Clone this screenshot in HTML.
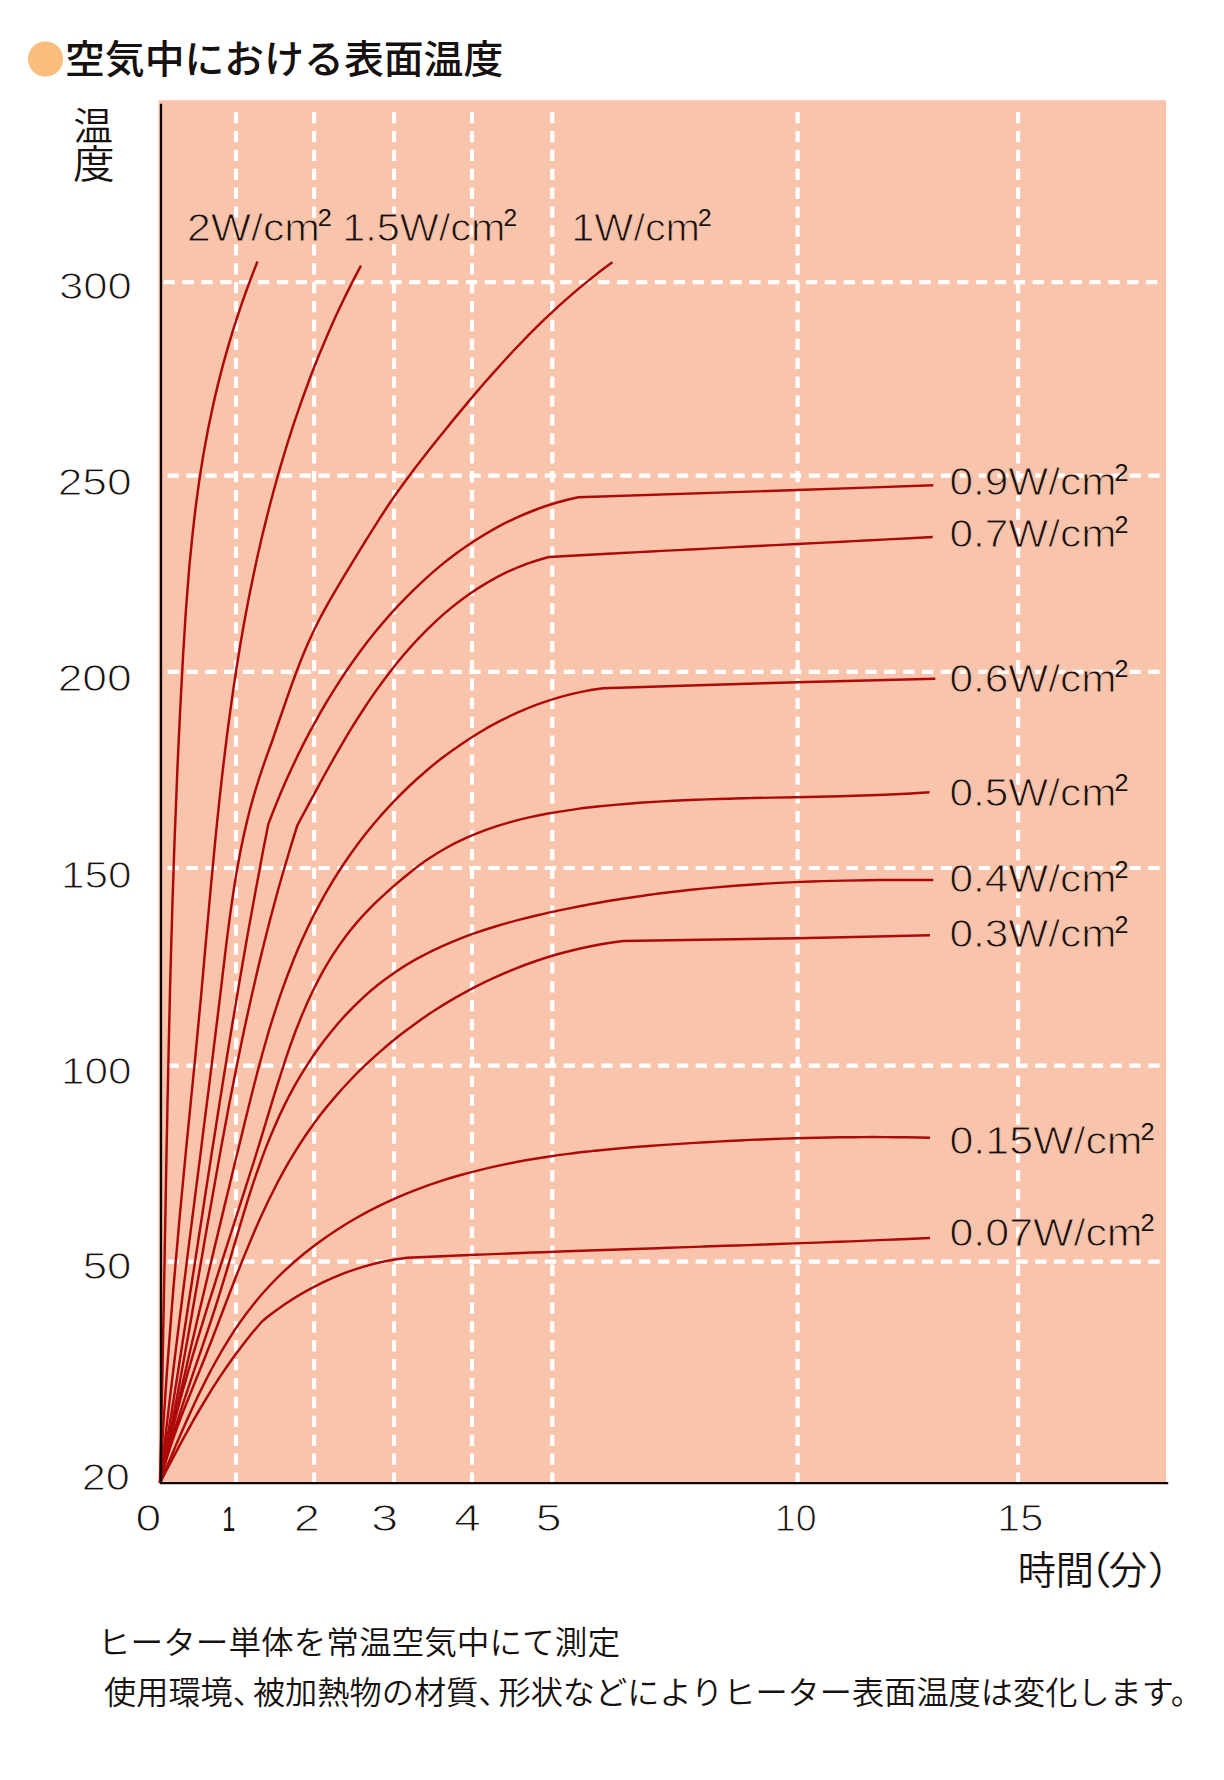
<!DOCTYPE html>
<html lang="ja"><head><meta charset="utf-8"><title>空気中における表面温度</title>
<style>html,body{margin:0;padding:0;background:#fff}svg{display:block}text{fill:#16110f}.jp{font-family:"Liberation Sans","Noto Sans CJK JP",sans-serif}.n{font-family:"Liberation Sans",sans-serif}.sp{stroke:none}.ew{stroke:#fff;stroke-width:1.0}.ec{stroke:#F8C4AC;stroke-width:1.0}</style></head><body>
<svg width="1224" height="1780" viewBox="0 0 1224 1780">
<rect x="0" y="0" width="1224" height="1780" fill="#fff"/>
<rect x="158.6" y="100.2" width="1007.5" height="1383" fill="#F8C4AC"/>
<g stroke="#fff" stroke-width="4.2" stroke-dasharray="11.300 7.595" fill="none">
<path d="M236.0 112V1482.5"/>
<path d="M314.1 112V1482.5"/>
<path d="M394.0 112V1482.5"/>
<path d="M472.0 112V1482.5"/>
<path d="M552.3 112V1482.5"/>
<path d="M797.6 112V1482.5"/>
<path d="M1018.1 112V1482.5"/>
<path d="M163.5 282.1H1158.2"/>
</g>
<g stroke="#fff" stroke-width="4.2" stroke-dasharray="11.300 7.560" fill="none">
<path d="M167.6 475.7H1160.2"/>
<path d="M167.6 671.8H1160.2"/>
<path d="M167.6 868.0H1160.2"/>
<path d="M167.6 1065.7H1160.2"/>
<path d="M167.6 1261.6H1160.2"/>
</g>
<g stroke="#AE0909" stroke-width="2.45" fill="none" stroke-linecap="butt" stroke-linejoin="round">
<path d="M160.0 1483.0C160.2 1475.5 160.4 1468.1 160.5 1460.6C160.7 1453.2 160.9 1445.7 161.1 1438.2C161.2 1430.8 161.4 1423.3 161.5 1415.9C161.7 1408.4 161.9 1400.9 162.0 1393.5C162.2 1386.0 162.3 1378.6 162.5 1371.1C162.6 1363.6 162.8 1356.2 162.9 1348.7C163.1 1341.3 163.2 1333.8 163.3 1326.4C163.5 1318.9 163.6 1311.4 163.8 1304.0C163.9 1296.5 164.0 1289.1 164.2 1281.6C164.3 1274.1 164.4 1266.7 164.6 1259.2C164.7 1251.8 164.8 1244.3 165.0 1236.9C165.1 1229.4 165.3 1221.9 165.4 1214.5C165.5 1207.0 165.7 1199.6 165.8 1192.1C165.9 1184.7 166.1 1177.2 166.2 1169.7C166.4 1162.3 166.5 1154.8 166.6 1147.4C166.8 1139.9 166.9 1132.5 167.1 1125.0C167.2 1117.5 167.4 1110.1 167.5 1102.6C167.7 1095.2 167.8 1087.7 168.0 1080.3C168.1 1072.8 168.3 1065.4 168.5 1057.9C168.6 1050.4 168.8 1043.0 169.0 1035.5C169.1 1028.1 169.3 1020.6 169.5 1013.2C169.7 1005.7 169.8 998.3 170.0 990.8C170.2 983.3 170.4 975.9 170.6 968.4C170.8 961.0 171.0 953.5 171.2 946.1C171.4 938.6 171.6 931.2 171.9 923.7C172.1 916.2 172.3 908.8 172.5 901.3C172.8 893.9 173.0 886.4 173.3 879.0C173.5 871.5 173.8 864.1 174.0 856.6C174.3 849.1 174.5 841.7 174.8 834.2C175.1 826.8 175.4 819.3 175.7 811.9C176.0 804.4 176.3 797.0 176.6 789.5C176.9 782.1 177.2 774.6 177.5 767.1C177.8 759.7 178.2 752.2 178.5 744.8C178.9 737.3 179.2 729.9 179.6 722.4C179.9 715.0 180.3 707.5 180.7 700.1C181.1 692.6 181.5 685.1 181.9 677.7C182.3 670.2 182.7 662.8 183.1 655.3C183.6 647.9 184.0 640.4 184.5 633.0C184.9 625.5 185.4 618.1 185.9 610.6C186.5 603.2 187.0 595.7 187.6 588.3C188.2 580.9 188.8 573.4 189.4 566.0C190.1 558.6 190.8 551.2 191.6 543.7C192.3 536.3 193.1 528.9 194.0 521.5C194.8 514.1 195.7 506.7 196.7 499.4C197.7 492.0 198.7 484.6 199.8 477.3C200.9 469.9 202.1 462.6 203.3 455.2C204.6 447.9 205.9 440.6 207.3 433.3C208.7 425.9 210.2 418.7 211.8 411.4C213.3 404.1 215.0 396.8 216.7 389.6C218.5 382.3 220.3 375.1 222.2 367.9C224.1 360.7 226.1 353.5 228.2 346.3C230.3 339.2 232.5 332.0 234.7 324.9C237.0 317.8 239.4 310.7 241.8 303.6C244.2 296.5 246.8 289.5 249.4 282.5C252.0 275.4 254.7 268.5 257.5 261.5"/>
<path d="M160.0 1483.0C160.4 1475.6 160.8 1468.2 161.2 1460.8C161.6 1453.5 162.1 1446.1 162.5 1438.7C163.0 1431.3 163.4 1423.9 163.9 1416.6C164.4 1409.2 164.9 1401.8 165.4 1394.4C165.9 1387.1 166.4 1379.7 166.9 1372.3C167.5 1364.9 168.0 1357.6 168.6 1350.2C169.1 1342.8 169.7 1335.5 170.3 1328.1C170.8 1320.7 171.4 1313.4 172.0 1306.0C172.6 1298.6 173.2 1291.3 173.8 1283.9C174.5 1276.5 175.1 1269.2 175.7 1261.8C176.4 1254.4 177.0 1247.1 177.7 1239.7C178.3 1232.4 179.0 1225.0 179.6 1217.6C180.3 1210.3 181.0 1202.9 181.7 1195.5C182.4 1188.2 183.1 1180.8 183.8 1173.5C184.5 1166.1 185.2 1158.7 185.9 1151.4C186.6 1144.0 187.3 1136.7 188.1 1129.3C188.8 1122.0 189.5 1114.6 190.3 1107.2C191.0 1099.9 191.7 1092.5 192.5 1085.2C193.2 1077.8 193.9 1070.5 194.7 1063.1C195.4 1055.7 196.1 1048.4 196.8 1041.0C197.5 1033.7 198.2 1026.3 198.9 1018.9C199.6 1011.6 200.3 1004.2 201.0 996.8C201.6 989.5 202.3 982.1 203.0 974.8C203.6 967.4 204.3 960.0 204.9 952.7C205.6 945.3 206.3 937.9 206.9 930.6C207.6 923.2 208.2 915.8 208.9 908.5C209.6 901.1 210.2 893.8 210.9 886.4C211.6 879.0 212.3 871.7 213.0 864.3C213.7 857.0 214.4 849.6 215.1 842.3C215.8 834.9 216.6 827.6 217.3 820.2C218.1 812.9 218.9 805.5 219.6 798.2C220.4 790.8 221.3 783.5 222.1 776.1C222.9 768.8 223.8 761.4 224.7 754.1C225.6 746.8 226.5 739.4 227.4 732.1C228.4 724.8 229.4 717.5 230.4 710.1C231.4 702.8 232.4 695.5 233.5 688.2C234.6 680.9 235.7 673.5 236.8 666.2C238.0 658.9 239.2 651.6 240.4 644.3C241.7 637.0 242.9 629.7 244.2 622.5C245.6 615.2 246.9 607.9 248.3 600.6C249.7 593.4 251.2 586.1 252.7 578.9C254.2 571.6 255.7 564.4 257.3 557.2C258.9 549.9 260.6 542.7 262.3 535.5C264.0 528.3 265.8 521.2 267.6 514.0C269.4 506.8 271.3 499.7 273.2 492.5C275.1 485.4 277.1 478.3 279.1 471.2C281.2 464.1 283.3 457.0 285.4 450.0C287.6 442.9 289.8 435.9 292.1 428.8C294.4 421.8 296.8 414.8 299.2 407.9C301.6 400.9 304.1 393.9 306.7 387.0C309.2 380.1 311.8 373.2 314.5 366.3C317.2 359.5 320.0 352.6 322.9 345.8C325.7 339.0 328.6 332.2 331.6 325.4C334.6 318.7 337.7 312.0 340.9 305.3C344.1 298.6 347.3 292.0 350.7 285.4C354.0 278.8 357.5 272.2 361.0 265.7"/>
<path d="M160.0 1483.0C160.8 1475.7 161.7 1468.4 162.5 1461.0C163.4 1453.7 164.2 1446.4 165.1 1439.1C165.9 1431.8 166.8 1424.5 167.7 1417.2C168.5 1409.8 169.4 1402.5 170.3 1395.2C171.2 1387.9 172.1 1380.6 172.9 1373.3C173.8 1366.0 174.7 1358.7 175.6 1351.4C176.5 1344.0 177.4 1336.7 178.3 1329.4C179.2 1322.1 180.2 1314.8 181.1 1307.5C182.0 1300.2 182.9 1292.9 183.8 1285.6C184.7 1278.3 185.7 1271.0 186.6 1263.7C187.5 1256.4 188.4 1249.0 189.3 1241.7C190.3 1234.4 191.2 1227.1 192.1 1219.8C193.1 1212.5 194.0 1205.2 194.9 1197.9C195.8 1190.6 196.8 1183.3 197.7 1176.0C198.6 1168.7 199.5 1161.4 200.5 1154.1C201.4 1146.8 202.3 1139.4 203.2 1132.1C204.2 1124.8 205.1 1117.5 206.0 1110.2C206.9 1102.9 207.8 1095.6 208.8 1088.3C209.7 1081.0 210.6 1073.7 211.5 1066.4C212.4 1059.0 213.3 1051.7 214.2 1044.4C215.1 1037.1 216.0 1029.8 216.9 1022.5C217.8 1015.2 218.7 1007.8 219.6 1000.5C220.4 993.2 221.3 985.9 222.2 978.6C223.1 971.3 223.9 964.0 224.8 956.6C225.7 949.3 226.6 942.0 227.5 934.7C228.4 927.4 229.4 920.1 230.4 912.8C231.4 905.5 232.5 898.2 233.6 891.0C234.7 883.7 235.9 876.5 237.1 869.2C238.4 862.0 239.8 854.8 241.2 847.6C242.7 840.4 244.2 833.2 245.9 826.0C247.6 818.9 249.3 811.8 251.3 804.7C253.2 797.6 255.3 790.5 257.5 783.5C259.7 776.4 262.1 769.4 264.5 762.4C266.9 755.4 269.5 748.5 272.0 741.5C274.4 734.5 276.8 727.5 279.2 720.5C281.7 713.5 284.0 706.5 286.5 699.5C288.9 692.6 291.3 685.6 293.9 678.7C296.4 671.9 299.0 665.0 301.7 658.2C304.5 651.4 307.3 644.6 310.4 638.0C313.4 631.3 316.6 624.7 320.0 618.2C323.4 611.7 327.0 605.3 330.6 598.9C334.3 592.5 338.1 586.2 341.8 579.8C345.6 573.5 349.5 567.2 353.3 560.9C357.2 554.6 361.0 548.3 364.9 542.0C368.8 535.8 372.6 529.5 376.6 523.3C380.6 517.1 384.5 510.9 388.6 504.8C392.7 498.7 396.9 492.7 401.2 486.7C405.5 480.8 409.9 474.9 414.3 469.0C418.8 463.2 423.3 457.4 427.9 451.6C432.4 445.8 437.0 440.0 441.7 434.3C446.3 428.6 450.9 422.8 455.6 417.1C460.3 411.4 465.0 405.8 469.7 400.1C474.5 394.5 479.3 388.9 484.1 383.3C488.9 377.8 493.8 372.2 498.8 366.8C503.7 361.3 508.7 355.9 513.7 350.5C518.8 345.2 523.9 339.9 529.0 334.6C534.2 329.4 539.4 324.2 544.7 319.1C550.1 314.1 555.4 309.0 560.9 304.1C566.4 299.2 571.9 294.3 577.5 289.6C583.2 284.9 588.9 280.2 594.7 275.6C600.5 271.1 606.4 266.6 612.4 262.3"/>
<path d="M160.0 1483.0C161.2 1475.7 162.4 1468.4 163.6 1461.0C164.9 1453.7 166.1 1446.4 167.2 1439.1C168.4 1431.8 169.6 1424.4 170.8 1417.1C172.0 1409.8 173.1 1402.5 174.3 1395.1C175.5 1387.8 176.6 1380.5 177.8 1373.1C178.9 1365.8 180.1 1358.5 181.2 1351.2C182.4 1343.8 183.5 1336.5 184.6 1329.2C185.8 1321.8 186.9 1314.5 188.0 1307.2C189.2 1299.8 190.3 1292.5 191.4 1285.2C192.6 1277.8 193.7 1270.5 194.8 1263.2C195.9 1255.8 197.1 1248.5 198.2 1241.2C199.3 1233.8 200.4 1226.5 201.6 1219.2C202.7 1211.8 203.8 1204.5 204.9 1197.2C206.1 1189.8 207.2 1182.5 208.3 1175.2C209.5 1167.9 210.6 1160.5 211.7 1153.2C212.9 1145.9 214.0 1138.5 215.2 1131.2C216.3 1123.9 217.5 1116.5 218.6 1109.2C219.8 1101.9 220.9 1094.6 222.1 1087.2C223.3 1079.9 224.5 1072.6 225.6 1065.3C226.8 1057.9 228.0 1050.6 229.2 1043.3C230.4 1036.0 231.6 1028.7 232.8 1021.3C234.0 1014.0 235.3 1006.7 236.5 999.4C237.7 992.1 239.0 984.8 240.2 977.4C241.5 970.1 242.7 962.8 244.0 955.5C245.3 948.2 246.5 940.9 247.8 933.6C249.1 926.3 250.4 919.0 251.8 911.7C253.1 904.4 254.4 897.1 255.8 889.8C257.1 882.5 258.5 875.2 259.9 867.9C261.2 860.6 262.6 853.3 264.0 846.1C265.4 838.8 266.9 831.5 268.3 824.2C270.9 817.3 273.5 810.5 276.3 803.7C279.1 796.9 281.9 790.1 284.9 783.3C287.9 776.5 291.0 769.8 294.2 763.0C297.3 756.3 300.6 749.6 304.0 742.9C307.4 736.2 310.9 729.6 314.6 723.1C318.2 716.5 321.9 709.9 325.7 703.5C329.6 697.0 333.5 690.6 337.6 684.3C341.6 678.0 345.8 671.7 350.1 665.5C354.4 659.4 358.8 653.3 363.3 647.3C367.8 641.3 372.5 635.4 377.2 629.6C382.0 623.9 386.8 618.2 391.8 612.6C396.8 607.0 401.9 601.6 407.2 596.3C412.4 591.0 417.8 585.8 423.2 580.8C428.7 575.7 434.3 570.8 440.0 566.1C445.7 561.4 451.6 556.9 457.5 552.5C463.5 548.1 469.6 544.0 475.8 540.0C482.0 536.0 488.3 532.2 494.8 528.6C501.2 525.1 507.8 521.7 514.5 518.6C521.2 515.5 528.1 512.6 535.0 510.0C542.0 507.3 549.1 504.9 556.3 502.8C563.5 500.7 570.9 498.9 578.3 497.3C651.3 494.9 724.3 492.5 797.3 490.0C842.6 488.5 888.0 486.9 933.3 485.3"/>
<path d="M160.0 1483.0C161.5 1475.7 163.0 1468.4 164.5 1461.1C166.0 1453.7 167.5 1446.4 168.9 1439.1C170.4 1431.7 171.8 1424.4 173.2 1417.1C174.6 1409.7 176.0 1402.4 177.4 1395.0C178.7 1387.7 180.1 1380.3 181.4 1373.0C182.8 1365.6 184.1 1358.3 185.4 1350.9C186.8 1343.6 188.1 1336.2 189.4 1328.8C190.7 1321.5 192.0 1314.1 193.2 1306.7C194.5 1299.4 195.8 1292.0 197.1 1284.6C198.4 1277.3 199.6 1269.9 200.9 1262.5C202.2 1255.2 203.5 1247.8 204.7 1240.4C206.0 1233.1 207.3 1225.7 208.6 1218.3C209.9 1211.0 211.2 1203.6 212.5 1196.2C213.8 1188.9 215.1 1181.5 216.4 1174.1C217.7 1166.8 219.0 1159.4 220.3 1152.1C221.7 1144.7 223.0 1137.4 224.4 1130.0C225.8 1122.7 227.1 1115.3 228.5 1108.0C229.9 1100.6 231.3 1093.3 232.8 1086.0C234.2 1078.6 235.7 1071.3 237.1 1064.0C238.6 1056.7 240.1 1049.3 241.6 1042.0C243.2 1034.7 244.7 1027.4 246.3 1020.1C247.9 1012.8 249.5 1005.5 251.1 998.2C252.7 991.0 254.4 983.7 256.1 976.4C257.8 969.1 259.5 961.9 261.3 954.6C263.1 947.4 264.9 940.1 266.7 932.9C268.6 925.6 270.4 918.4 272.4 911.2C274.3 904.0 276.2 896.7 278.2 889.5C280.2 882.3 282.3 875.1 284.4 868.0C286.5 860.8 288.6 853.6 290.8 846.4C293.0 839.3 295.2 832.1 297.5 825.0C301.0 818.5 304.4 812.0 307.9 805.6C311.4 799.1 314.9 792.6 318.5 786.1C322.0 779.5 325.6 773.0 329.2 766.5C332.9 760.0 336.5 753.5 340.3 747.1C344.0 740.7 347.8 734.2 351.7 727.9C355.6 721.5 359.6 715.2 363.7 709.0C367.8 702.7 372.0 696.5 376.3 690.4C380.6 684.3 385.0 678.3 389.6 672.4C394.1 666.5 398.8 660.7 403.6 655.0C408.5 649.3 413.4 643.7 418.6 638.3C423.7 632.9 428.9 627.7 434.4 622.6C439.8 617.5 445.3 612.6 451.1 607.9C456.8 603.3 462.7 598.8 468.7 594.5C474.7 590.3 480.9 586.3 487.3 582.6C493.7 578.8 500.2 575.4 506.8 572.2C513.6 569.0 520.4 566.2 527.4 563.6C534.5 561.1 541.7 558.9 549.0 557.0C556.5 556.6 564.0 556.2 571.6 555.8C579.1 555.3 586.6 554.9 594.1 554.5C601.7 554.1 609.2 553.7 616.7 553.3C624.2 552.9 631.7 552.5 639.3 552.1C646.8 551.7 654.3 551.3 661.8 550.9C669.4 550.5 676.9 550.2 684.4 549.8C691.9 549.4 699.5 549.0 707.0 548.6C714.5 548.2 722.0 547.8 729.6 547.4C737.1 547.1 744.6 546.7 752.1 546.3C759.7 545.9 767.2 545.5 774.7 545.1C782.2 544.8 789.7 544.4 797.3 544.0C804.8 543.6 812.3 543.2 819.8 542.9C827.4 542.5 834.9 542.1 842.4 541.7C849.9 541.3 857.5 540.9 865.0 540.5C872.5 540.1 880.0 539.8 887.6 539.4C895.1 539.0 902.6 538.6 910.1 538.2C917.7 537.8 925.2 537.4 932.7 537.0"/>
<path d="M160.0 1483.0C161.6 1475.8 163.2 1468.6 164.8 1461.4C166.4 1454.2 168.1 1447.0 169.7 1439.9C171.3 1432.7 172.9 1425.5 174.6 1418.3C176.2 1411.1 177.9 1404.0 179.5 1396.8C181.1 1389.6 182.8 1382.4 184.5 1375.3C186.1 1368.1 187.8 1360.9 189.4 1353.8C191.1 1346.6 192.8 1339.4 194.5 1332.3C196.1 1325.1 197.8 1317.9 199.5 1310.8C201.2 1303.6 202.9 1296.5 204.6 1289.3C206.3 1282.2 208.0 1275.0 209.7 1267.8C211.4 1260.7 213.1 1253.5 214.8 1246.4C216.5 1239.2 218.3 1232.1 220.0 1224.9C221.7 1217.7 223.4 1210.6 225.1 1203.4C226.9 1196.3 228.6 1189.1 230.3 1182.0C232.1 1174.8 233.8 1167.6 235.5 1160.5C237.3 1153.3 239.0 1146.1 240.8 1139.0C242.5 1131.8 244.2 1124.6 246.0 1117.5C247.8 1110.3 249.5 1103.1 251.3 1096.0C253.1 1088.8 254.9 1081.7 256.8 1074.5C258.7 1067.4 260.6 1060.3 262.5 1053.2C264.5 1046.1 266.5 1039.0 268.6 1031.9C270.7 1024.8 272.9 1017.8 275.2 1010.8C277.4 1003.8 279.8 996.8 282.2 989.9C284.7 982.9 287.2 976.0 289.9 969.2C292.5 962.4 295.3 955.5 298.1 948.8C301.0 942.1 304.0 935.4 307.2 928.7C310.3 922.1 313.5 915.5 317.0 909.1C320.4 902.6 323.9 896.1 327.6 889.8C331.3 883.5 335.1 877.2 339.1 871.0C343.1 864.9 347.2 858.8 351.5 852.8C355.7 846.8 360.1 840.9 364.7 835.1C369.2 829.3 373.9 823.6 378.8 818.0C383.6 812.4 388.6 807.0 393.7 801.6C398.8 796.3 404.0 791.1 409.4 786.0C414.7 780.9 420.2 776.0 425.8 771.2C431.4 766.4 437.1 761.8 443.0 757.3C448.8 752.9 454.8 748.5 460.9 744.4C467.0 740.3 473.2 736.3 479.5 732.5C485.7 728.7 492.2 725.1 498.7 721.7C505.2 718.3 511.8 715.1 518.5 712.1C525.2 709.2 532.0 706.4 538.9 703.9C545.8 701.4 552.8 699.1 559.9 697.1C567.0 695.1 574.1 693.3 581.3 691.9C588.6 690.4 595.9 689.2 603.3 688.3C668.0 686.1 732.6 684.1 797.3 682.3C843.3 681.0 889.3 679.8 935.3 678.7"/>
<path d="M160.0 1483.0C161.6 1475.7 163.2 1468.4 164.8 1461.2C166.5 1453.9 168.2 1446.7 170.0 1439.4C171.8 1432.2 173.6 1425.0 175.5 1417.8C177.4 1410.6 179.3 1403.4 181.2 1396.3C183.2 1389.1 185.2 1381.9 187.2 1374.8C189.2 1367.7 191.3 1360.5 193.4 1353.4C195.5 1346.3 197.6 1339.2 199.8 1332.1C201.9 1325.0 204.1 1317.9 206.3 1310.8C208.5 1303.7 210.7 1296.6 213.0 1289.6C215.2 1282.5 217.4 1275.4 219.7 1268.3C221.9 1261.3 224.2 1254.2 226.5 1247.1C228.8 1240.0 231.0 1233.0 233.3 1225.9C235.6 1218.8 237.9 1211.7 240.1 1204.7C242.4 1197.6 244.7 1190.5 246.9 1183.4C249.2 1176.3 251.4 1169.2 253.7 1162.1C255.9 1155.0 258.1 1147.9 260.3 1140.8C262.5 1133.6 264.7 1126.5 266.8 1119.4C269.0 1112.2 271.1 1105.1 273.3 1097.9C275.5 1090.8 277.7 1083.7 280.0 1076.6C282.2 1069.5 284.5 1062.4 286.9 1055.3C289.3 1048.3 291.8 1041.3 294.4 1034.3C297.0 1027.4 299.7 1020.5 302.6 1013.6C305.5 1006.8 308.5 1000.0 311.7 993.3C314.9 986.7 318.2 980.1 321.7 973.6C325.3 967.2 329.0 960.8 333.0 954.6C337.0 948.5 341.2 942.4 345.6 936.5C350.0 930.6 354.7 924.9 359.6 919.4C364.6 913.8 369.8 908.5 375.1 903.2C380.5 898.0 386.1 892.9 391.7 887.9C397.4 882.8 403.2 877.9 409.2 873.2C415.1 868.5 421.1 863.9 427.4 859.6C433.6 855.4 439.9 851.5 446.5 847.8C452.9 844.2 459.5 840.9 466.2 837.9C472.9 834.9 479.8 832.1 486.7 829.6C493.6 827.1 500.6 824.9 507.7 822.9C514.8 820.8 521.9 819.0 529.1 817.4C536.4 815.7 543.6 814.3 550.9 813.0C558.3 811.7 565.6 810.6 573.0 809.6C580.4 808.5 587.8 807.6 595.2 806.8C602.6 806.0 610.0 805.3 617.5 804.6C624.9 804.0 632.3 803.4 639.7 802.8C647.2 802.3 654.6 801.8 662.0 801.4C669.4 801.0 676.9 800.6 684.3 800.2C691.7 799.9 699.2 799.6 706.6 799.4C714.0 799.1 721.5 798.9 728.9 798.7C736.3 798.4 743.7 798.3 751.2 798.1C758.6 797.9 766.0 797.8 773.5 797.6C780.9 797.5 788.3 797.3 795.8 797.2C803.2 797.0 810.6 796.9 818.1 796.7C825.5 796.6 832.9 796.4 840.4 796.2C847.8 796.0 855.2 795.8 862.6 795.5C870.1 795.3 877.5 795.0 884.9 794.7C892.4 794.4 899.8 794.1 907.2 793.7C914.6 793.2 922.1 792.8 929.5 792.3"/>
<path d="M160.0 1483.0C161.7 1475.8 163.5 1468.7 165.5 1461.5C167.4 1454.4 169.4 1447.4 171.5 1440.3C173.6 1433.2 175.8 1426.2 178.0 1419.2C180.2 1412.2 182.5 1405.2 184.8 1398.3C187.1 1391.3 189.4 1384.4 191.8 1377.4C194.1 1370.5 196.5 1363.5 198.9 1356.6C201.3 1349.6 203.7 1342.7 206.0 1335.7C208.3 1328.8 210.7 1321.8 212.9 1314.8C215.2 1307.8 217.5 1300.8 219.6 1293.8C221.8 1286.8 223.9 1279.7 226.1 1272.7C228.2 1265.6 230.2 1258.6 232.3 1251.5C234.4 1244.4 236.5 1237.4 238.6 1230.3C240.7 1223.2 242.8 1216.2 245.0 1209.1C247.1 1202.1 249.3 1195.1 251.6 1188.1C253.9 1181.1 256.3 1174.1 258.8 1167.2C261.2 1160.2 263.8 1153.3 266.4 1146.4C269.1 1139.6 271.9 1132.8 274.9 1126.0C277.8 1119.2 280.9 1112.5 284.1 1105.9C287.4 1099.2 290.8 1092.7 294.4 1086.2C298.0 1079.7 301.8 1073.4 305.8 1067.1C309.7 1060.9 313.8 1054.7 318.1 1048.7C322.4 1042.7 326.9 1036.9 331.6 1031.2C336.2 1025.5 341.0 1019.9 346.0 1014.6C351.0 1009.2 356.1 1004.1 361.5 999.1C366.8 994.1 372.3 989.4 378.0 984.8C383.6 980.3 389.5 976.0 395.5 971.9C401.5 967.8 407.7 964.0 414.0 960.4C420.3 956.8 426.8 953.4 433.3 950.3C439.9 947.1 446.6 944.1 453.4 941.3C460.2 938.5 467.2 935.9 474.1 933.4C481.1 931.0 488.2 928.7 495.3 926.5C502.4 924.3 509.6 922.3 516.8 920.4C524.0 918.5 531.3 916.7 538.6 915.0C545.8 913.3 553.1 911.7 560.4 910.1C567.7 908.6 575.0 907.1 582.3 905.7C589.5 904.3 596.8 903.0 604.1 901.7C611.4 900.5 618.6 899.3 625.9 898.2C633.2 897.0 640.5 896.0 647.7 895.0C655.0 894.0 662.3 893.0 669.6 892.2C676.8 891.3 684.1 890.5 691.4 889.7C698.7 888.9 705.9 888.2 713.2 887.6C720.5 886.9 727.8 886.3 735.1 885.7C742.4 885.2 749.7 884.7 756.9 884.2C764.2 883.7 771.5 883.3 778.8 882.9C786.2 882.5 793.5 882.2 800.8 881.9C808.1 881.6 815.4 881.4 822.7 881.1C830.1 880.9 837.4 880.7 844.7 880.6C852.1 880.4 859.5 880.3 866.8 880.2C874.2 880.1 881.5 880.0 888.9 880.0C896.3 879.9 903.7 879.9 911.1 879.9C918.5 879.9 925.9 879.9 933.3 880.0"/>
<path d="M160.0 1483.0C161.8 1475.7 163.7 1468.5 165.8 1461.3C167.9 1454.1 170.3 1447.0 172.7 1440.0C175.1 1432.9 177.7 1426.0 180.3 1419.0C182.9 1412.0 185.7 1405.1 188.5 1398.2C191.2 1391.3 194.1 1384.4 196.8 1377.5C199.6 1370.6 202.5 1363.7 205.2 1356.7C208.0 1349.8 210.7 1342.8 213.4 1335.8C216.1 1328.8 218.8 1321.8 221.4 1314.8C224.1 1307.8 226.8 1300.8 229.4 1293.8C232.1 1286.8 234.8 1279.8 237.5 1272.8C240.3 1265.8 243.0 1258.9 245.9 1251.9C248.7 1245.0 251.6 1238.1 254.5 1231.2C257.5 1224.4 260.5 1217.6 263.7 1210.8C266.8 1204.0 270.0 1197.3 273.4 1190.7C276.7 1184.0 280.2 1177.4 283.8 1170.9C287.4 1164.4 291.2 1158.0 295.1 1151.7C299.0 1145.4 303.0 1139.1 307.2 1133.0C311.4 1126.9 315.8 1120.8 320.3 1114.9C324.9 1109.0 329.6 1103.3 334.5 1097.6C339.3 1092.0 344.4 1086.4 349.5 1081.0C354.6 1075.6 359.9 1070.3 365.3 1065.2C370.7 1060.0 376.2 1055.0 381.9 1050.1C387.5 1045.2 393.3 1040.4 399.1 1035.8C405.0 1031.2 411.0 1026.7 417.0 1022.4C423.1 1018.0 429.3 1013.8 435.6 1009.8C441.8 1005.7 448.2 1001.8 454.7 998.1C461.1 994.4 467.7 990.8 474.3 987.3C480.9 983.9 487.6 980.6 494.4 977.6C501.2 974.5 508.1 971.5 515.0 968.8C521.9 966.0 528.9 963.4 536.0 961.0C543.1 958.6 550.2 956.4 557.4 954.3C564.6 952.3 571.8 950.4 579.1 948.7C586.4 947.1 593.7 945.6 601.1 944.3C608.4 943.0 615.9 941.9 623.3 941.0C681.3 940.3 739.3 939.4 797.3 938.3C841.5 937.4 885.8 936.4 930.0 935.3"/>
<path d="M160.0 1483.0C162.9 1476.2 165.8 1469.3 168.7 1462.5C171.6 1455.6 174.5 1448.7 177.4 1441.8C180.4 1434.9 183.4 1428.0 186.5 1421.1C189.6 1414.2 192.7 1407.3 195.9 1400.5C199.2 1393.6 202.5 1386.8 205.9 1380.1C209.3 1373.3 212.9 1366.6 216.6 1360.0C220.2 1353.5 224.0 1347.0 228.0 1340.6C231.9 1334.2 236.0 1327.9 240.4 1321.8C244.6 1315.7 249.1 1309.7 253.8 1303.9C258.4 1298.1 263.3 1292.4 268.4 1287.0C273.4 1281.5 278.7 1276.2 284.1 1271.1C289.5 1266.0 295.1 1261.0 300.9 1256.2C306.6 1251.5 312.5 1246.9 318.6 1242.4C324.6 1238.0 330.8 1233.8 337.1 1229.7C343.4 1225.6 349.8 1221.7 356.3 1218.0C362.8 1214.3 369.4 1210.7 376.1 1207.4C382.8 1204.0 389.6 1200.8 396.5 1197.8C403.3 1194.8 410.2 1192.0 417.2 1189.3C424.2 1186.7 431.2 1184.2 438.3 1181.9C445.4 1179.5 452.6 1177.3 459.8 1175.3C467.0 1173.2 474.2 1171.3 481.5 1169.6C488.8 1167.8 496.1 1166.1 503.4 1164.6C510.8 1163.0 518.2 1161.6 525.6 1160.3C533.0 1159.0 540.5 1157.8 548.0 1156.7C555.4 1155.5 562.9 1154.5 570.4 1153.6C577.9 1152.6 585.5 1151.8 593.0 1150.9C600.5 1150.1 608.0 1149.4 615.6 1148.7C623.1 1148.0 630.7 1147.4 638.2 1146.8C645.7 1146.2 653.3 1145.6 660.8 1145.1C668.3 1144.6 675.8 1144.1 683.3 1143.6C690.8 1143.1 698.3 1142.7 705.8 1142.2C713.2 1141.8 720.7 1141.4 728.1 1141.0C735.6 1140.6 743.0 1140.3 750.5 1139.9C757.9 1139.6 765.4 1139.3 772.8 1139.0C780.2 1138.7 787.7 1138.5 795.1 1138.3C802.6 1138.0 810.0 1137.8 817.4 1137.7C824.9 1137.5 832.3 1137.4 839.8 1137.3C847.3 1137.2 854.7 1137.1 862.2 1137.1C869.7 1137.0 877.2 1137.0 884.7 1137.1C892.2 1137.1 899.8 1137.2 907.3 1137.3C914.9 1137.4 922.4 1137.5 930.0 1137.7"/>
<path d="M160.0 1483.0C163.6 1475.9 167.3 1468.8 171.0 1461.8C174.7 1454.7 178.4 1447.6 182.2 1440.6C186.0 1433.6 189.9 1426.6 193.8 1419.6C197.8 1412.7 201.8 1405.8 206.0 1399.0C210.1 1392.1 214.3 1385.4 218.7 1378.7C223.1 1372.0 227.6 1365.4 232.2 1359.0C236.9 1352.5 241.7 1346.1 246.6 1339.9C251.6 1333.6 256.7 1327.5 262.0 1321.5L267.0 1317.3C272.8 1312.7 278.7 1308.4 284.8 1304.2C290.9 1300.1 297.1 1296.2 303.5 1292.6C309.8 1288.9 316.3 1285.5 322.9 1282.3C329.5 1279.2 336.3 1276.2 343.1 1273.6C349.9 1271.0 356.9 1268.6 363.9 1266.6C370.9 1264.5 378.1 1262.7 385.3 1261.3C392.5 1259.8 399.8 1258.6 407.2 1257.8C414.8 1257.4 422.3 1257.1 429.9 1256.8C437.5 1256.4 445.1 1256.1 452.6 1255.8C460.2 1255.5 467.8 1255.1 475.4 1254.8C483.0 1254.5 490.5 1254.2 498.1 1253.9C505.7 1253.6 513.3 1253.3 520.8 1253.0C528.4 1252.7 536.0 1252.5 543.6 1252.2C551.1 1251.9 558.7 1251.6 566.3 1251.3C573.9 1251.1 581.5 1250.8 589.0 1250.5C596.6 1250.3 604.2 1250.0 611.8 1249.7C619.3 1249.5 626.9 1249.2 634.5 1249.0C642.1 1248.7 649.7 1248.4 657.2 1248.2C664.8 1247.9 672.4 1247.7 680.0 1247.4C687.5 1247.1 695.1 1246.9 702.7 1246.6C710.3 1246.4 717.9 1246.1 725.4 1245.8C733.0 1245.6 740.6 1245.3 748.2 1245.1C755.7 1244.8 763.3 1244.5 770.9 1244.3C778.5 1244.0 786.1 1243.7 793.6 1243.4C801.2 1243.2 808.8 1242.9 816.4 1242.6C823.9 1242.3 831.5 1242.0 839.1 1241.8C846.7 1241.5 854.2 1241.2 861.8 1240.9C869.4 1240.6 877.0 1240.3 884.5 1239.9C892.1 1239.6 899.7 1239.3 907.3 1239.0C914.9 1238.7 922.4 1238.3 930.0 1238.0"/>
</g>
<path d="M161 103.8V1483.2H1168.2" stroke="#0d0806" stroke-width="2.3" fill="none"/>
<circle cx="45.5" cy="59" r="17.6" fill="#F9BE7E"/>
<text class="jp" transform="translate(64.97 72.6) scale(1.0171 1)" font-size="39.2" font-weight="500">空気中における表面温度</text>
<text class="jp" transform="translate(73.13 139.9) scale(1.0343 1)" font-size="38.5" font-weight="350">温</text>
<text class="jp" transform="translate(73.04 177.7) scale(1.0824 1)" font-size="38.5" font-weight="350">度</text>
<text class="n ew" transform="translate(58.91 299.1) scale(1.1965 1)" font-size="36.5">300</text>
<text class="n ew" transform="translate(57.66 494.7) scale(1.2179 1)" font-size="36.5">250</text>
<text class="n ew" transform="translate(57.66 690.5) scale(1.2179 1)" font-size="36.5">200</text>
<text class="n ew" transform="translate(61.04 887.5) scale(1.1600 1)" font-size="36.5">150</text>
<text class="n ew" transform="translate(61.04 1083.5) scale(1.1600 1)" font-size="36.5">100</text>
<text class="n ew" transform="translate(82.70 1279.1) scale(1.2000 1)" font-size="36.5">50</text>
<text class="n ew" transform="translate(81.67 1489.5) scale(1.1730 1)" font-size="36.9">20</text>
<text class="n ew" transform="translate(135.42 1531.0) scale(1.2529 1)" font-size="36.9">0</text>
<text class="n" transform="translate(222.20 1530.5) scale(0.6667 1)" font-size="35.2">1</text>
<text class="n ew" transform="translate(293.81 1531.0) scale(1.2750 1)" font-size="36.9">2</text>
<text class="n ew" transform="translate(371.09 1531.0) scale(1.3250 1)" font-size="36.9">3</text>
<text class="n ew" transform="translate(454.02 1531.0) scale(1.3176 1)" font-size="36.9">4</text>
<text class="n ew" transform="translate(535.64 1531.0) scale(1.2625 1)" font-size="36.9">5</text>
<text class="n ew" transform="translate(774.83 1531.0) scale(1.0194 1)" font-size="36.9">10</text>
<text class="n ew" transform="translate(997.05 1531.0) scale(1.1286 1)" font-size="36.9">15</text>
<text class="jp" transform="translate(1017.63 1584.3) scale(0.9915 1)" font-size="38.5" font-weight="350">時間</text>
<text class="jp" transform="translate(1067.60 1584.3) scale(1.1444 1)" font-size="38.5" font-weight="350">（</text>
<text class="jp" transform="translate(1109.01 1584.3) scale(0.9889 1)" font-size="38.5" font-weight="350">分</text>
<text class="jp" transform="translate(1147.80 1584.3) scale(1.1000 1)" font-size="38.5" font-weight="350">）</text>
<text class="n ec" transform="translate(187.01 240.8) scale(1.0763 1)" font-size="39.7">2W/cm<tspan class="sp" dx="-1.9" dy="-14.4" font-size="23.5">2</tspan></text>
<text class="n ec" transform="translate(342.36 240.8) scale(1.0413 1)" font-size="39.7">1.5W/cm<tspan class="sp" dx="-1.9" dy="-14.4" font-size="23.5">2</tspan></text>
<text class="n ec" transform="translate(571.35 240.8) scale(1.0427 1)" font-size="39.7">1W/cm<tspan class="sp" dx="-1.9" dy="-14.4" font-size="23.5">2</tspan></text>
<text class="n ec" transform="translate(949.53 495.1) scale(1.0662 1)" font-size="39.7">0.9W/cm<tspan class="sp" dx="-1.9" dy="-14.4" font-size="23.5">2</tspan></text>
<text class="n ec" transform="translate(949.53 547.1) scale(1.0662 1)" font-size="39.7">0.7W/cm<tspan class="sp" dx="-1.9" dy="-14.4" font-size="23.5">2</tspan></text>
<text class="n ec" transform="translate(949.53 691.7) scale(1.0662 1)" font-size="39.7">0.6W/cm<tspan class="sp" dx="-1.9" dy="-14.4" font-size="23.5">2</tspan></text>
<text class="n ec" transform="translate(949.53 805.7) scale(1.0662 1)" font-size="39.7">0.5W/cm<tspan class="sp" dx="-1.9" dy="-14.4" font-size="23.5">2</tspan></text>
<text class="n ec" transform="translate(949.53 891.9) scale(1.0662 1)" font-size="39.7">0.4W/cm<tspan class="sp" dx="-1.9" dy="-14.4" font-size="23.5">2</tspan></text>
<text class="n ec" transform="translate(949.53 947.4) scale(1.0662 1)" font-size="39.7">0.3W/cm<tspan class="sp" dx="-1.9" dy="-14.4" font-size="23.5">2</tspan></text>
<text class="n ec" transform="translate(949.50 1154.1) scale(1.0809 1)" font-size="39.7">0.15W/cm<tspan class="sp" dx="-1.9" dy="-14.4" font-size="23.5">2</tspan></text>
<text class="n ec" transform="translate(949.50 1245.8) scale(1.0809 1)" font-size="39.7">0.07W/cm<tspan class="sp" dx="-1.9" dy="-14.4" font-size="23.5">2</tspan></text>
<text class="jp" transform="translate(97.86 1653.5) scale(1.0203 1)" font-size="32" font-weight="350">ヒーター単体を常温空気中にて測定</text>
<text class="jp" transform="translate(103.99 1703.5) scale(1.0065 1)" font-size="32" font-weight="350">使用環境、<tspan dx="-12">被</tspan>加熱物の材質、<tspan dx="-12">形</tspan>状などによりヒーター表面温度は変化します。</text>
</svg></body></html>
